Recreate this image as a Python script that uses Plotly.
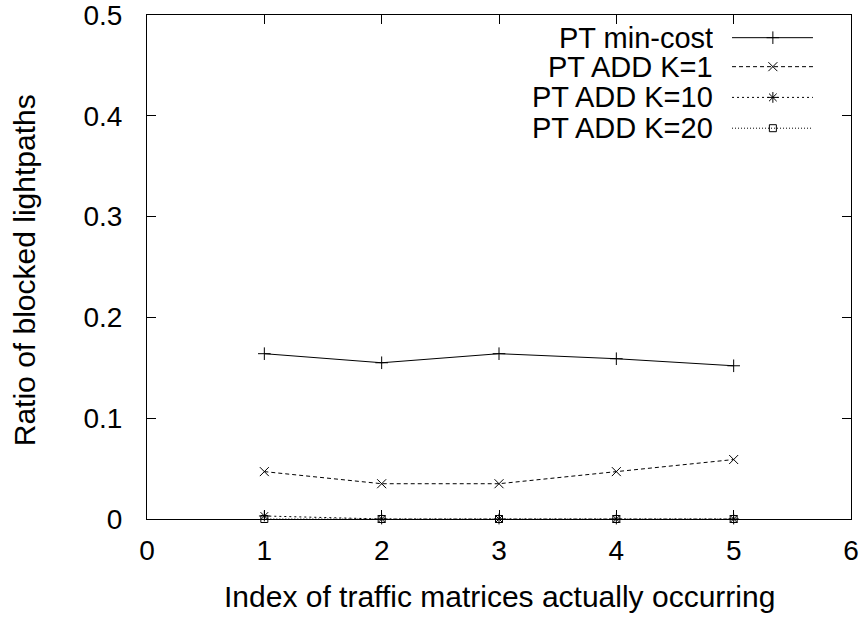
import plotly.graph_objects as go

x_index = [1, 2, 3, 4, 5]
names = ["PT min-cost", "PT ADD K=1", "PT ADD K=10", "PT ADD K=20"]
min_cost = [0.164, 0.155, 0.164, 0.159, 0.152]
add_k1 = [0.047, 0.035, 0.035, 0.047, 0.059]
add_k10 = [0.003, 0.0, 0.0, 0.0, 0.0]
add_k20 = [0.0, 0.0, 0.0, 0.0, 0.0]
x_ticks = [0, 1, 2, 3, 4, 5, 6]
y_ticks = [0, 0.1, 0.2, 0.3, 0.4, 0.5]
x_title = "Index of traffic matrices actually occurring"
y_title = "Ratio of blocked lightpaths"

series = [min_cost, add_k1, add_k10, add_k20]
dashes = ["solid", "4px,3px", "2px,3px", "1px,2px"]
symbols = ["cross-thin", "x-thin", "asterisk", "square-open"]
msizes = [9, 9, 9, 7]

FONT = "Liberation Sans, Arial, Helvetica, sans-serif"
fig = go.Figure()
for name, ys, d, s, ms in zip(names, series, dashes, symbols, msizes):
    fig.add_trace(go.Scatter(
        x=x_index, y=ys, name=name, mode="lines+markers",
        line=dict(color="black", width=1, dash=d),
        marker=dict(symbol=s, size=ms, color="black",
                    line=dict(color="black", width=1)),
        showlegend=False, cliponaxis=False))

# Legend (gnuplot style: text on the left, sample on the right)
leg_y = [0.955, 0.8975, 0.8365, 0.7754]
for name, ly, d, s, ms in zip(names, leg_y, dashes, symbols, msizes):
    fig.add_trace(go.Scatter(
        x=[0.831, 0.946], y=[ly, ly], xaxis="x2", yaxis="y2", mode="lines",
        line=dict(color="black", width=1, dash=d), showlegend=False,
        hoverinfo="skip"))
    fig.add_trace(go.Scatter(
        x=[0.889], y=[ly], xaxis="x2", yaxis="y2", mode="markers",
        marker=dict(symbol=s, size=ms, color="black",
                    line=dict(color="black", width=1)),
        showlegend=False, hoverinfo="skip"))
    fig.add_annotation(x=0.806, y=ly, xref="x2", yref="y2", text=name,
                       showarrow=False, xanchor="right", yanchor="middle",
                       height=28, borderpad=0,
                       font=dict(family=FONT, size=29, color="black"))

# Axis titles placed like gnuplot's
fig.add_annotation(x=0.5, y=-0.1547, xref="paper", yref="paper", text=x_title,
                   showarrow=False, xanchor="center", yanchor="middle",
                   font=dict(family=FONT, size=30, color="black"))
fig.add_annotation(x=-0.174, y=0.4926, xref="paper", yref="paper", text=y_title,
                   showarrow=False, xanchor="center", yanchor="middle",
                   textangle=-90,
                   font=dict(family=FONT, size=30, color="black"))

axis_common = dict(showline=True, linecolor="black", linewidth=1,
                   mirror="ticks", ticks="inside", ticklen=9,
                   tickcolor="black", tickwidth=1, showgrid=False,
                   zeroline=False, ticklabeloverflow="allow",
                   automargin=False,
                   tickfont=dict(family=FONT, size=28, color="black"))

fig.update_layout(
    width=864, height=619,
    margin=dict(l=147, r=13, t=15, b=100),
    paper_bgcolor="white", plot_bgcolor="white",
    font=dict(family=FONT, size=28, color="black"),
    xaxis=dict(range=[0, 6], tickvals=x_ticks, ticklabelstandoff=6,
               **axis_common),
    yaxis=dict(range=[0, 0.5], tickvals=y_ticks,
               ticktext=[str(v) for v in y_ticks], ticklabelstandoff=18,
               **axis_common),
    xaxis2=dict(range=[0, 1], overlaying="x", visible=False),
    yaxis2=dict(range=[0, 1], overlaying="y", visible=False),
)

fig.write_html("out.html")
